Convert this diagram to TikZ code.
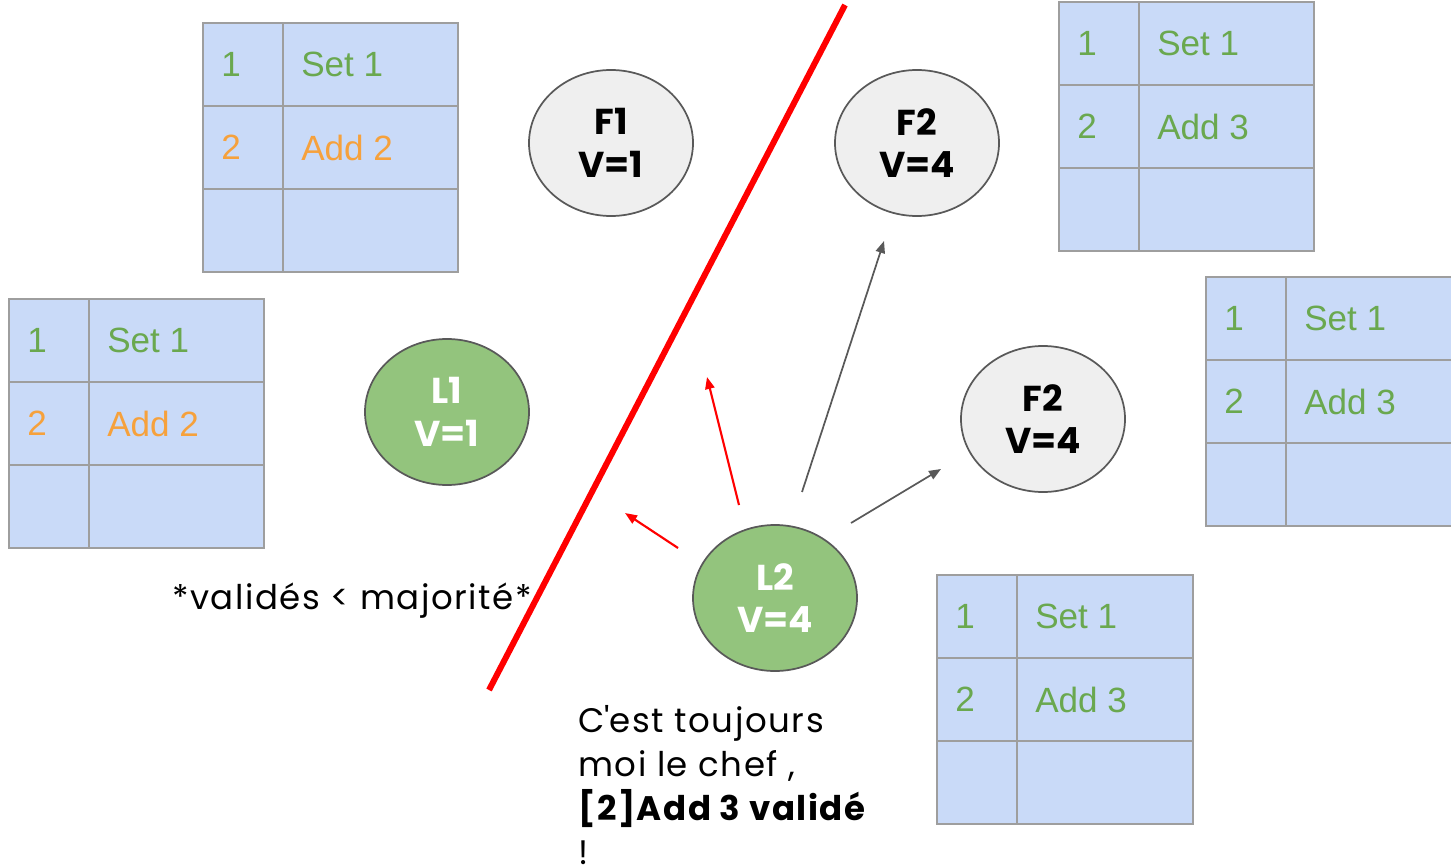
\documentclass[tikz,border=0pt]{standalone}
\usepackage{fontspec}
\setmainfont{Poppins}
\newfontfamily\arialf{Liberation Sans}
\newfontfamily\notefont[LetterSpace=4.5]{Poppins}
\usetikzlibrary{arrows.meta,shapes.geometric}
\definecolor{tblfill}{HTML}{C9DAF8}
\definecolor{tblline}{HTML}{9E9E9E}
\definecolor{okgreen}{HTML}{6AA84F}
\definecolor{pendorange}{HTML}{F6A13C}
\definecolor{ellgray}{HTML}{EFEFEF}
\definecolor{ellline}{HTML}{595959}
\definecolor{leadgreen}{HTML}{93C47D}
\definecolor{cutred}{HTML}{FF0000}
\tikzset{
  tabtext/.style={anchor=west, inner sep=0pt, font=\arialf\fontsize{26.3}{30}\selectfont},
  srv/.style={ellipse, draw=ellline, line width=1.3pt, minimum width=123pt, minimum height=109.5pt, inner sep=0pt, align=center, font=\bfseries\fontsize{27}{32}\selectfont},
  follower/.style={srv, fill=ellgray, text=black},
  leader/.style={srv, fill=leadgreen, text=white},
  redarrow/.style={draw=cutred, line width=1.6pt, -{Triangle[length=9pt,width=7pt]}},
  grayarrow/.style={draw=ellline, line width=1.3pt, -{Triangle[length=9pt,width=7pt]}},
  note/.style={anchor=west, inner sep=0pt, align=left, font=\notefont\fontsize{25.5}{33}\selectfont}
}
% #1 name prefix, #2 x, #3 y, #4 width, #5 colour of row 2
\newcommand\logtable[5]{%
  \fill[tblfill] (#2,#3) rectangle ++(#4,249);
  \draw[tblline, line width=1.6pt] (#2,#3) rectangle ++(#4,249);
  \draw[tblline, line width=1.6pt] (#2+80,#3) -- ++(0,249);
  \draw[tblline, line width=1.6pt] (#2,#3+83) -- ++(#4,0);
  \draw[tblline, line width=1.6pt] (#2,#3+166) -- ++(#4,0);
  \node[tabtext, text=okgreen] (#1i1) at (#2+18,#3+41.5) {1};
  \node[tabtext, text=okgreen] (#1c1) at (#2+98,#3+41.5) {Set 1};
  \node[tabtext, text=#5] (#1i2) at (#2+18,#3+124.5) {2};
}
\begin{document}
\begin{tikzpicture}[x=0.75pt,y=-0.75pt]
\useasboundingbox (0,0) rectangle (1451,866);
% tables
\logtable{ta}{203}{23}{255}{pendorange}
\node[tabtext, text=pendorange] (tac2) at (301,147.5) {Add 2};
\logtable{tb}{9}{299}{255}{pendorange}
\node[tabtext, text=pendorange] (tbc2) at (107,423.5) {Add 2};
\logtable{tc}{1059}{2}{255}{okgreen}
\node[tabtext, text=okgreen] (tcc2) at (1157,126.5) {Add 3};
\logtable{td}{1206}{277}{260}{okgreen}
\node[tabtext, text=okgreen] (tdc2) at (1304,401.5) {Add 3};
\logtable{te}{937}{575}{256}{okgreen}
\node[tabtext, text=okgreen] (tec2) at (1035,699.5) {Add 3};
% partition line
\coordinate (cutA) at (845,5);
\coordinate (cutB) at (489,690);
\draw[cutred, line width=4.5pt] (cutA) -- (cutB);
% servers
\node[follower] (f1) at (611,143) {F1\\V=1};
\node[follower] (f2a) at (917,143) {F2\\V=4};
\node[follower] (f2b) at (1043,419) {F2\\V=4};
\node[leader] (l1) at (447,412) {L1\\V=1};
\node[leader] (l2) at (775,598) {L2\\V=4};
% messages
\coordinate (r1s) at (739,505); \coordinate (r1e) at (707,377);
\coordinate (r2s) at (678,548); \coordinate (r2e) at (625,513);
\coordinate (g1s) at (802,492); \coordinate (g1e) at (884,241);
\coordinate (g2s) at (851,523); \coordinate (g2e) at (941,469);
\draw[redarrow] (r1s) -- (r1e);
\draw[redarrow] (r2s) -- (r2e);
\draw[grayarrow] (g1s) -- (g1e);
\draw[grayarrow] (g2s) -- (g2e);
% notes
\node[note] (minority) at (172,601) {*validés < majorité*};
\node[note, anchor=north west] (chef) at (578,705) {C\textquotesingle est toujours\\moi le chef ,\\\textbf{[2]Add 3 validé}\\!};
\end{tikzpicture}
\end{document}
